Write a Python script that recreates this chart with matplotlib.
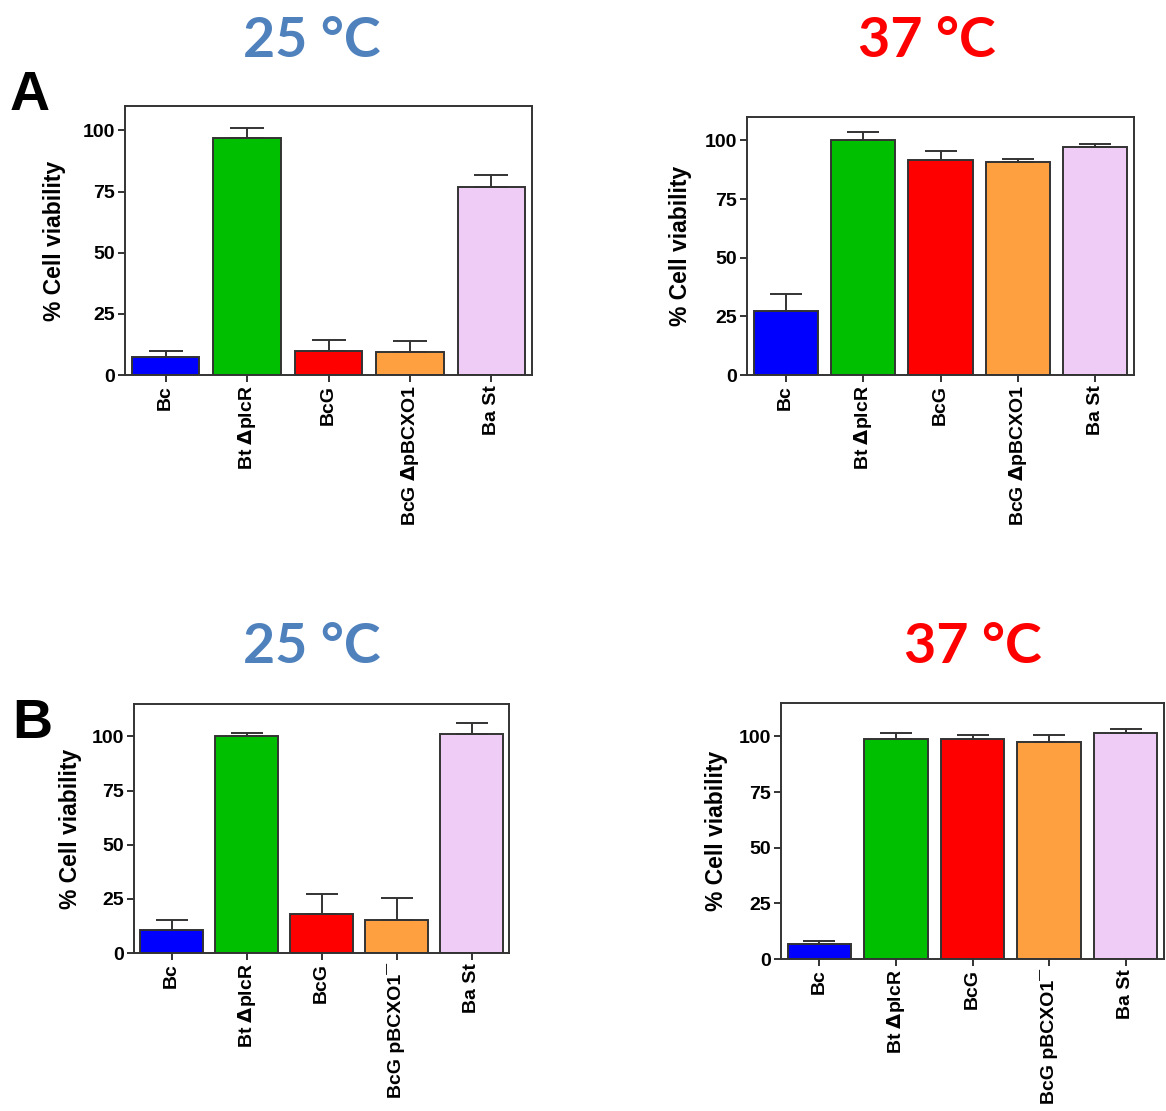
import matplotlib
matplotlib.use("Agg")
import matplotlib.pyplot as plt

# Daten
strainsA = ["Bc", r"Bt $\Delta$plcR", "BcG", r"BcG $\Delta$pBCXO1", "Ba St"]
strainsB = ["Bc", r"Bt $\Delta$plcR", "BcG", "BcG pBCXO1\u00af", "Ba St"]

a25_mean = [7.5, 97.1, 9.8, 9.3, 76.8]
a25_err = [2.3, 4.0, 4.5, 4.5, 4.8]
a37_mean = [27.5, 100.0, 91.6, 90.9, 97.0]
a37_err = [7.1, 3.6, 4.1, 1.3, 1.7]
b25_mean = [10.8, 100.0, 17.9, 15.3, 101.1]
b25_err = [4.5, 1.8, 9.5, 10.3, 5.2]
b37_mean = [6.9, 98.8, 98.8, 97.6, 101.3]
b37_err = [1.2, 2.5, 1.8, 3.0, 2.0]

bar_colors = ["#0000FF", "#00BE00", "#FF0000", "#FFA040", "#EECCF6"]

W, H, DPI = 1166, 1111, 100
plt.rcParams["font.family"] = ["Liberation Sans", "DejaVu Sans"]
plt.rcParams["font.weight"] = "bold"

fig = plt.figure(figsize=(W / DPI, H / DPI), dpi=DPI)


def box(l, t, r, b):
    return [l / W, 1 - b / H, (r - l) / W, (b - t) / H]


def panel(pos, labels, means, errs, ytop, lab_x):
    ax = fig.add_axes(box(*pos))
    x = list(range(len(means)))
    ax.bar(x, means, width=0.83, color=bar_colors, edgecolor="#333333",
           linewidth=1.4, zorder=2)
    ax_w_px = pos[2] - pos[0]
    cap = ax_w_px / 5 * 0.83 * 0.25 * 72 / DPI
    ax.errorbar(x, means, yerr=[[0] * len(errs), errs], fmt="none",
                ecolor="#333333", elinewidth=1.4, capsize=cap, capthick=1.4,
                zorder=3)
    ax.set_xlim(-0.5, 4.5)
    ax.set_ylim(0, ytop)
    ax.set_yticks([0, 25, 50, 75, 100])
    ax.set_xticks(x)
    ax.set_xticklabels(labels, rotation=90, fontsize=14, fontweight="bold")
    for t in ax.get_yticklabels():
        t.set_fontsize(14)
        t.set_fontweight("bold")
    ax.tick_params(direction="out", length=5, width=1.4, color="#333333", pad=2)
    for s in ax.spines.values():
        s.set_color("#333333")
        s.set_linewidth(1.4)
    ax.set_ylabel("% Cell viability", fontsize=16.5, fontweight="bold")
    ax.yaxis.set_label_coords(lab_x, 0.5)
    return ax


panel((125, 106, 532, 375), strainsA, a25_mean, a25_err, 110, -0.145)
panel((747, 117, 1134, 375), strainsA, a37_mean, a37_err, 110, -0.142)
panel((134, 704, 509, 953), strainsB, b25_mean, b25_err, 115, -0.14)
panel((781, 703, 1164, 959), strainsB, b37_mean, b37_err, 115, -0.139)

# Titel
tfont = dict(family="Lato", weight="bold", fontsize=40, ha="center", va="baseline")
fig.text(312 / W, 1 - 57 / H, "25 °C", color="#4F81BD", **tfont)
fig.text(927 / W, 1 - 57 / H, "37 °C", color="#FF0000", **tfont)
fig.text(312 / W, 1 - 663 / H, "25 °C", color="#4F81BD", **tfont)
fig.text(973 / W, 1 - 663 / H, "37 °C", color="#FF0000", **tfont)

# Buchstaben
fig.text(10 / W, 1 - 110 / H, "A", fontsize=40, fontweight="bold", va="baseline")
fig.text(12 / W, 1 - 738 / H, "B", fontsize=40, fontweight="bold", va="baseline")

fig.savefig("out.png", dpi=DPI)
